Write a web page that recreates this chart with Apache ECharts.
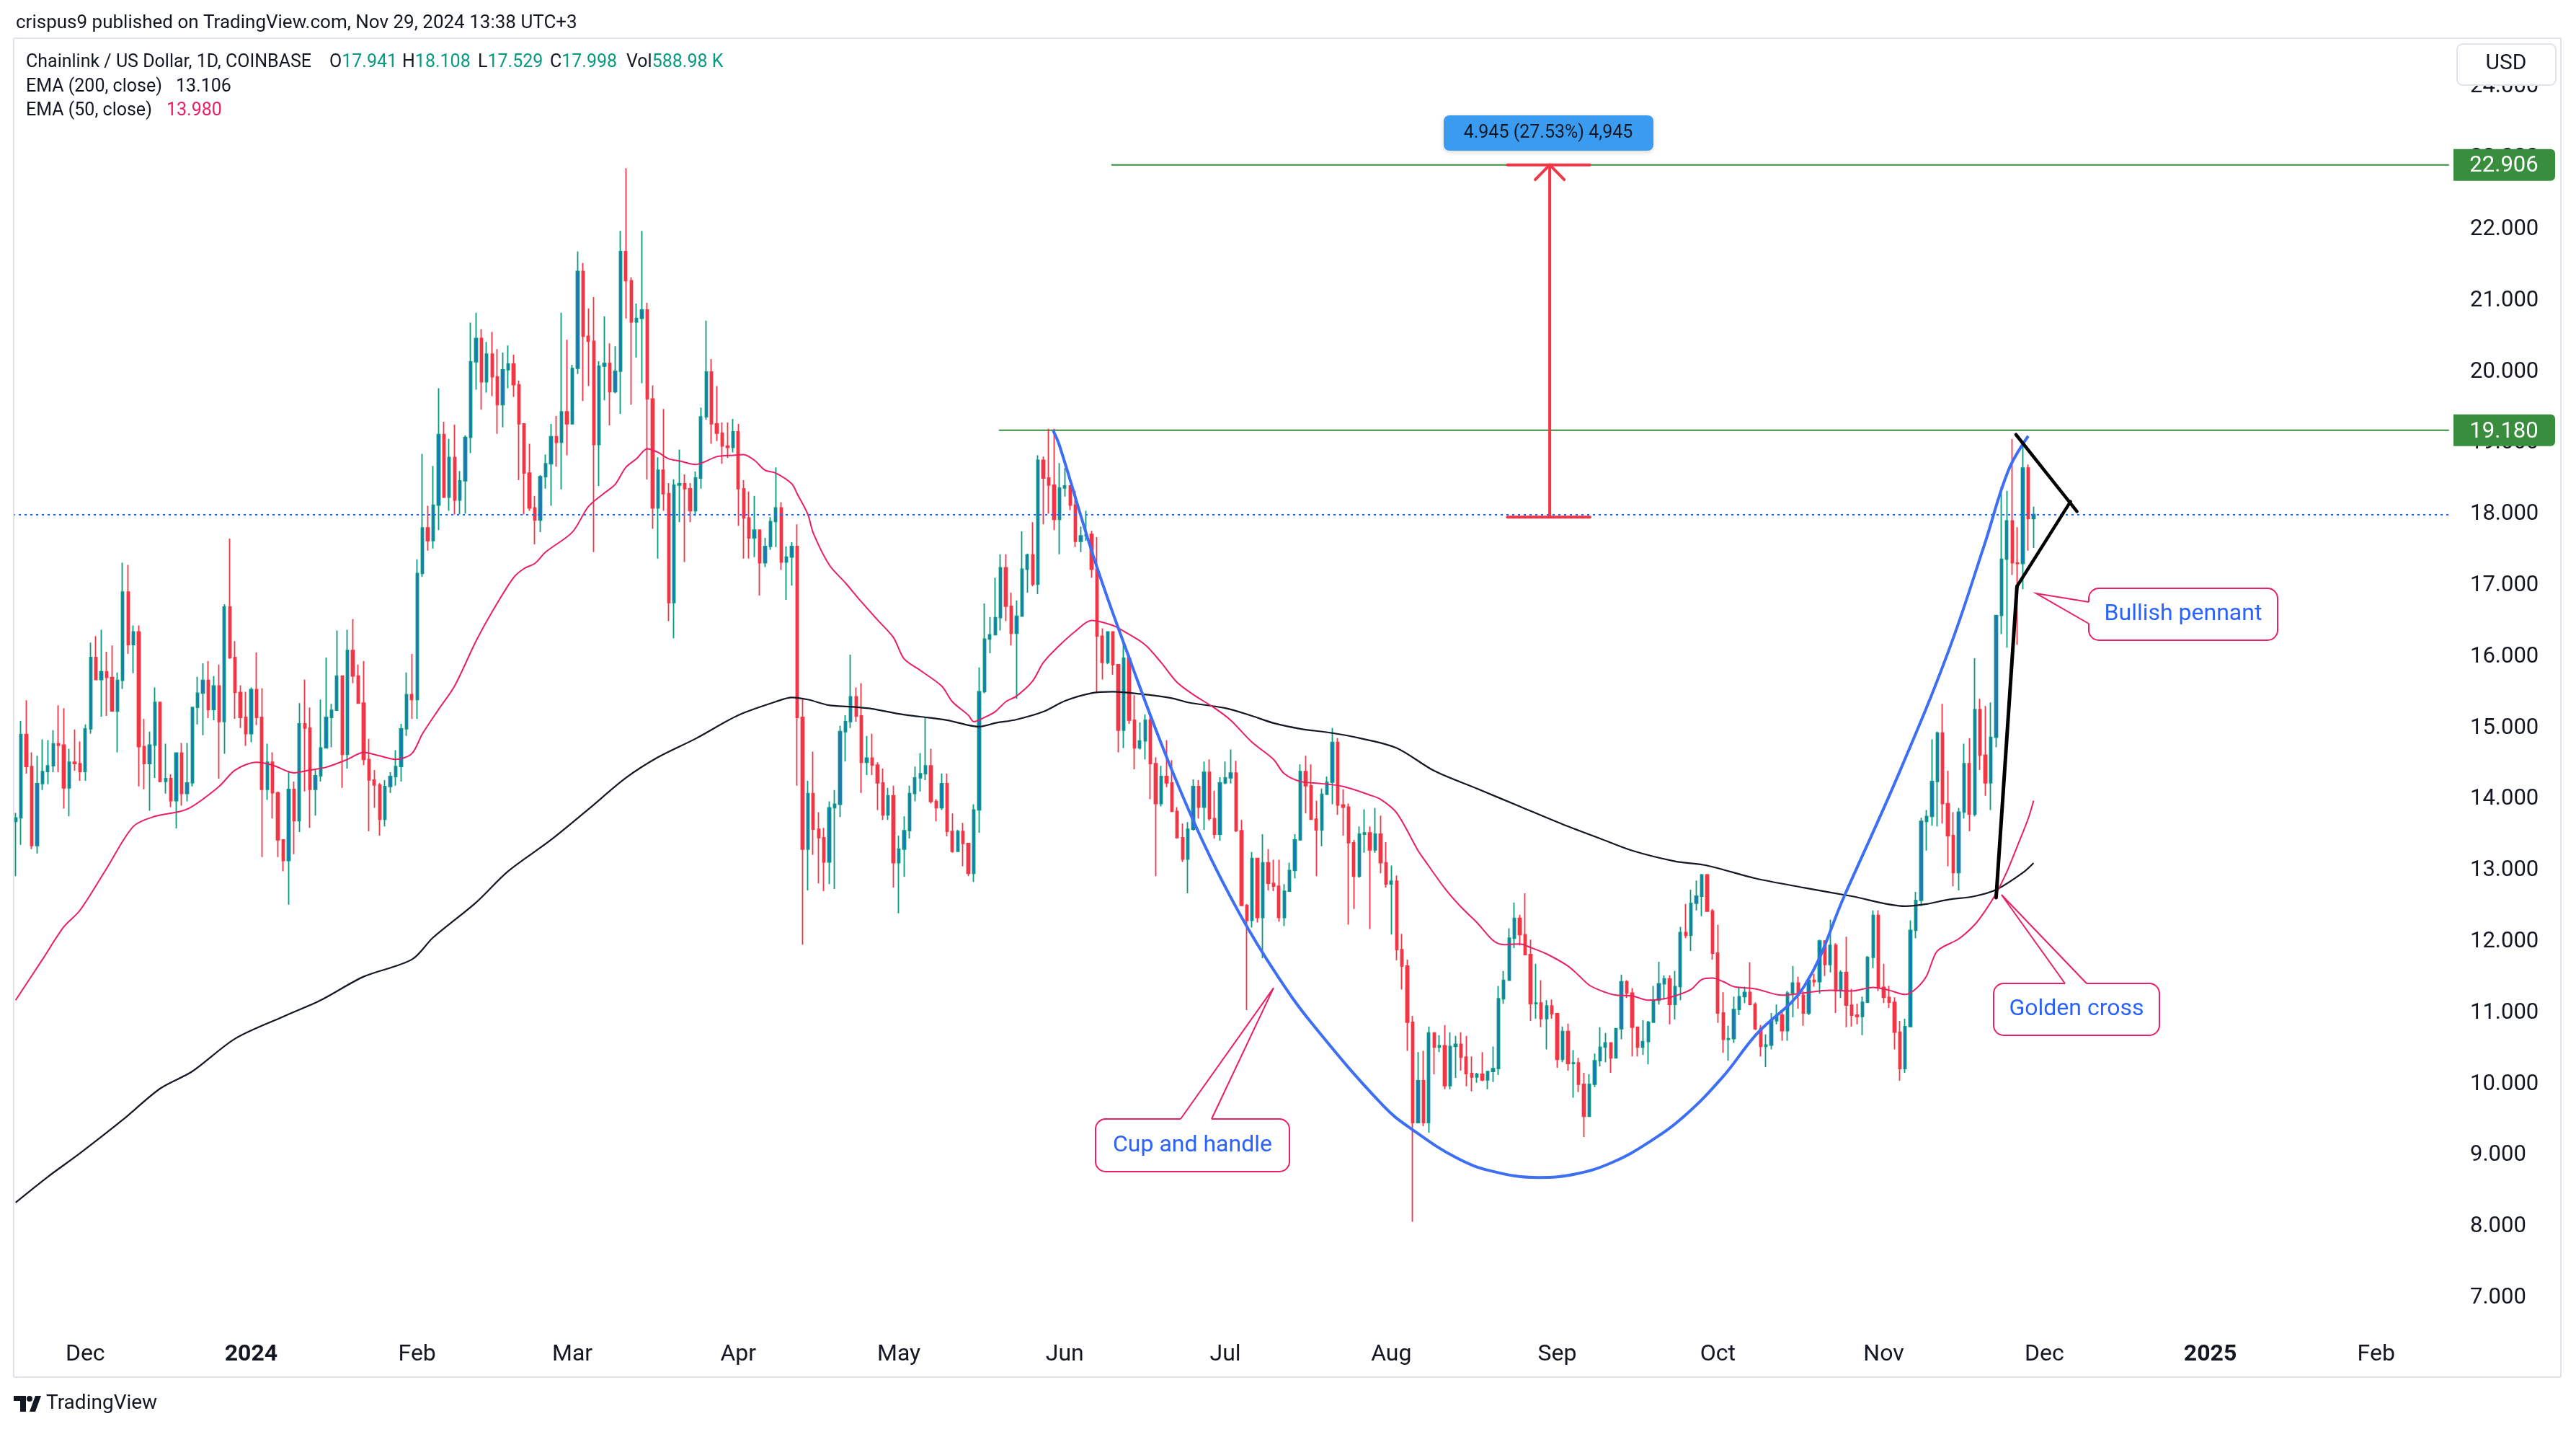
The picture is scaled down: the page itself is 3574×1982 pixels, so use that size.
<!DOCTYPE html>
<html>
<head>
<meta charset="utf-8">
<title>Chainlink / US Dollar, 1D</title>
<script src="https://cdn.jsdelivr.net/npm/echarts@6/dist/echarts.min.js"></script>
<style>
  html, body { margin: 0; padding: 0; background: #fff; }
  #chart { width: 3574px; height: 1982px; }
</style>
</head>
<body>
<div id="chart"></div>
<script>
// daily candles, index 0 = 2023-11-18 ... index 377 = 2024-11-29
const opens = [
  13.69, 13.74, 14.91, 14.46, 13.35, 14.22, 14.39, 14.47, 14.78, 14.76,
  14.16, 14.52, 14.50, 14.39, 14.99, 15.99, 15.68, 15.79, 15.71, 15.24,
  15.67, 16.91, 16.17, 16.35, 14.74, 14.50, 14.76, 15.36, 14.25, 14.29,
  13.98, 14.65, 14.08, 14.23, 15.29, 15.49, 15.67, 15.26, 15.59, 15.09,
  16.70, 15.99, 15.50, 15.15, 14.92, 15.54, 15.15, 14.14, 14.52, 14.09,
  13.43, 13.14, 14.14, 13.70, 15.06, 15.00, 14.14, 14.33, 14.72, 15.15,
  15.25, 15.73, 14.63, 16.09, 15.73, 15.35, 14.56, 14.27, 14.20, 13.72,
  14.18, 14.32, 14.46, 14.99, 15.47, 15.40, 17.17, 17.81, 17.63, 18.13,
  19.12, 18.24, 18.80, 18.20, 18.47, 19.08, 20.14, 20.47, 19.86, 20.25,
  19.93, 19.54, 20.03, 20.11, 19.82, 19.27, 18.58, 18.09, 17.92, 18.53,
  18.71, 19.09, 19.01, 19.44, 19.27, 20.05, 21.41, 20.50, 20.43, 18.98,
  20.08, 20.12, 19.72, 20.01, 21.69, 21.28, 20.70, 20.75, 20.87, 19.62,
  18.09, 18.62, 18.29, 16.76, 18.41, 18.43, 18.36, 18.05, 18.51, 19.37,
  20.00, 19.27, 19.14, 18.96, 18.94, 19.16, 18.36, 17.95, 17.67, 17.78,
  17.32, 17.55, 17.90, 18.09, 17.33, 17.40, 17.55, 15.15, 13.30, 14.08,
  13.58, 13.46, 13.12, 13.88, 13.93, 14.95, 15.09, 15.44, 15.17, 14.52,
  14.58, 14.48, 14.23, 13.78, 14.05, 13.11, 13.30, 13.56, 14.08, 14.30,
  14.36, 14.47, 13.97, 13.88, 14.22, 13.55, 13.27, 13.55, 13.38, 12.96,
  13.85, 15.51, 16.25, 16.31, 16.55, 17.25, 16.71, 16.33, 16.57, 17.23,
  17.43, 17.02, 18.76, 18.51, 18.41, 17.93, 18.37, 18.40, 18.13, 17.62,
  17.70, 17.72, 17.23, 16.29, 15.92, 16.35, 15.89, 14.97, 15.98, 15.11,
  14.72, 14.82, 15.11, 14.50, 13.94, 14.32, 14.23, 13.83, 13.46, 13.16,
  13.58, 14.18, 13.89, 14.38, 13.73, 13.51, 14.23, 14.30, 14.37, 13.56,
  12.51, 12.30, 13.17, 12.34, 13.11, 12.82, 12.78, 12.34, 12.71, 13.00,
  13.43, 14.39, 14.19, 13.72, 13.57, 14.07, 14.24, 14.80, 13.92, 13.89,
  13.39, 12.92, 13.51, 13.53, 13.29, 13.51, 13.11, 12.81, 12.85, 11.89,
  11.66, 10.87, 9.46, 10.05, 9.46, 10.72, 10.52, 10.54, 9.98, 10.53,
  10.56, 10.38, 10.15, 10.10, 10.14, 10.06, 10.18, 10.22, 11.20, 11.46,
  12.05, 12.33, 12.10, 11.82, 11.13, 11.14, 10.92, 11.10, 10.99, 10.35,
  10.74, 10.29, 10.30, 10.00, 9.55, 10.00, 10.33, 10.52, 10.58, 10.37,
  10.78, 11.44, 11.28, 10.80, 10.52, 10.60, 10.87, 11.18, 11.41, 11.48,
  11.12, 11.37, 12.13, 12.09, 12.54, 12.64, 12.94, 12.43, 11.84, 11.00,
  10.63, 10.64, 11.05, 11.23, 11.29, 11.12, 10.78, 10.53, 10.55, 10.89,
  10.97, 10.75, 11.28, 11.42, 11.25, 11.00, 11.46, 11.44, 12.01, 11.68,
  11.95, 11.31, 11.57, 11.11, 10.97, 10.95, 11.15, 11.78, 12.37, 11.36,
  11.22, 11.15, 10.73, 10.22, 10.81, 12.16, 12.58, 13.69, 13.76, 14.25,
  14.93, 13.94, 13.49, 12.97, 13.82, 14.50, 13.79, 15.26, 14.62, 14.23,
  14.87, 16.58, 17.37, 17.91, 17.32, 17.31, 18.65, 17.941
];
const closes = [
  13.74, 14.91, 14.46, 13.35, 14.22, 14.39, 14.47, 14.78, 14.76, 14.16,
  14.52, 14.50, 14.39, 14.99, 15.99, 15.68, 15.79, 15.71, 15.24, 15.67,
  16.91, 16.17, 16.35, 14.74, 14.50, 14.76, 15.36, 14.25, 14.29, 13.98,
  14.65, 14.08, 14.23, 15.29, 15.49, 15.67, 15.26, 15.59, 15.09, 16.70,
  15.99, 15.50, 15.15, 14.92, 15.54, 15.15, 14.14, 14.52, 14.09, 13.43,
  13.14, 14.14, 13.70, 15.06, 15.00, 14.14, 14.33, 14.72, 15.15, 15.25,
  15.73, 14.63, 16.09, 15.73, 15.35, 14.56, 14.27, 14.20, 13.72, 14.18,
  14.32, 14.46, 14.99, 15.47, 15.40, 17.17, 17.81, 17.63, 18.13, 19.12,
  18.24, 18.80, 18.20, 18.47, 19.08, 20.14, 20.47, 19.86, 20.25, 19.93,
  19.54, 20.03, 20.11, 19.82, 19.27, 18.58, 18.09, 17.92, 18.53, 18.71,
  19.09, 19.01, 19.44, 19.27, 20.05, 21.41, 20.50, 20.43, 18.98, 20.08,
  20.12, 19.72, 20.01, 21.69, 21.28, 20.70, 20.75, 20.87, 19.62, 18.09,
  18.62, 18.29, 16.76, 18.41, 18.43, 18.36, 18.05, 18.51, 19.37, 20.00,
  19.27, 19.14, 18.96, 18.94, 19.16, 18.36, 17.95, 17.67, 17.78, 17.32,
  17.55, 17.90, 18.09, 17.33, 17.40, 17.55, 15.15, 13.30, 14.08, 13.58,
  13.46, 13.12, 13.88, 13.93, 14.95, 15.09, 15.44, 15.17, 14.52, 14.58,
  14.48, 14.23, 13.78, 14.05, 13.11, 13.30, 13.56, 14.08, 14.30, 14.36,
  14.47, 13.97, 13.88, 14.22, 13.55, 13.27, 13.55, 13.38, 12.96, 13.85,
  15.51, 16.25, 16.31, 16.55, 17.25, 16.71, 16.33, 16.57, 17.23, 17.43,
  17.02, 18.76, 18.51, 18.41, 17.93, 18.37, 18.40, 18.13, 17.62, 17.70,
  17.72, 17.23, 16.29, 15.92, 16.35, 15.89, 14.97, 15.98, 15.11, 14.72,
  14.82, 15.11, 14.50, 13.94, 14.32, 14.23, 13.83, 13.46, 13.16, 13.58,
  14.18, 13.89, 14.38, 13.73, 13.51, 14.23, 14.30, 14.37, 13.56, 12.51,
  12.30, 13.17, 12.34, 13.11, 12.82, 12.78, 12.34, 12.71, 13.00, 13.43,
  14.39, 14.19, 13.72, 13.57, 14.07, 14.24, 14.80, 13.92, 13.89, 13.39,
  12.92, 13.51, 13.53, 13.29, 13.51, 13.11, 12.81, 12.85, 11.89, 11.66,
  10.87, 9.46, 10.05, 9.46, 10.72, 10.52, 10.54, 9.98, 10.53, 10.56,
  10.38, 10.15, 10.10, 10.14, 10.06, 10.18, 10.22, 11.20, 11.46, 12.05,
  12.33, 12.10, 11.82, 11.13, 11.14, 10.92, 11.10, 10.99, 10.35, 10.74,
  10.29, 10.30, 10.00, 9.55, 10.00, 10.33, 10.52, 10.58, 10.37, 10.78,
  11.44, 11.28, 10.80, 10.52, 10.60, 10.87, 11.18, 11.41, 11.48, 11.12,
  11.37, 12.13, 12.09, 12.54, 12.64, 12.94, 12.43, 11.84, 11.00, 10.63,
  10.64, 11.05, 11.23, 11.29, 11.12, 10.78, 10.53, 10.55, 10.89, 10.97,
  10.75, 11.28, 11.42, 11.25, 11.00, 11.46, 11.44, 12.01, 11.68, 11.95,
  11.31, 11.57, 11.11, 10.97, 10.95, 11.15, 11.78, 12.37, 11.36, 11.22,
  11.15, 10.73, 10.22, 10.81, 12.16, 12.58, 13.69, 13.76, 14.25, 14.93,
  13.94, 13.49, 12.97, 13.82, 14.50, 13.79, 15.26, 14.62, 14.23, 14.87,
  16.58, 17.37, 17.91, 17.32, 17.31, 18.65, 17.94, 17.998
];
const highs = [
  13.81, 15.10, 15.39, 14.66, 14.61, 14.84, 14.83, 14.97, 15.32, 15.28,
  14.71, 14.98, 14.81, 15.05, 16.20, 16.29, 16.38, 16.07, 16.16, 15.78,
  17.32, 17.29, 16.44, 16.44, 15.13, 14.95, 15.57, 15.37, 14.78, 14.35,
  14.66, 14.79, 14.79, 15.29, 15.72, 15.91, 15.94, 15.73, 15.89, 16.74,
  17.66, 16.22, 15.60, 15.51, 15.57, 16.06, 15.56, 14.78, 14.66, 14.11,
  13.43, 14.40, 14.25, 15.35, 15.68, 15.29, 14.42, 15.40, 15.99, 15.34,
  16.37, 15.73, 16.38, 16.53, 15.89, 15.94, 14.85, 14.41, 14.23, 14.27,
  14.38, 14.69, 15.06, 15.78, 16.04, 17.37, 18.85, 18.12, 18.68, 19.77,
  19.30, 19.06, 19.26, 18.61, 19.11, 20.69, 20.83, 20.60, 20.42, 20.56,
  20.32, 20.27, 20.37, 20.24, 19.88, 19.28, 18.99, 18.26, 18.55, 18.84,
  19.27, 19.38, 20.83, 20.45, 20.10, 21.69, 21.53, 20.89, 21.05, 20.15,
  20.78, 20.40, 20.36, 21.98, 22.86, 21.33, 20.96, 21.98, 20.97, 19.81,
  18.80, 19.48, 18.44, 18.49, 18.91, 18.56, 18.44, 18.60, 19.50, 20.72,
  20.18, 19.80, 19.29, 19.29, 19.34, 19.27, 18.48, 18.32, 18.26, 17.78,
  17.67, 17.96, 18.66, 18.17, 17.55, 17.61, 17.86, 15.40, 14.26, 14.67,
  13.82, 13.60, 13.97, 14.13, 15.03, 15.18, 16.03, 15.57, 15.63, 14.89,
  14.92, 14.52, 14.43, 14.16, 14.19, 13.49, 13.76, 14.19, 14.46, 14.65,
  15.15, 14.71, 14.00, 14.36, 14.36, 13.80, 13.57, 13.67, 13.38, 13.93,
  15.85, 16.75, 16.56, 17.11, 17.44, 17.44, 16.90, 16.79, 17.76, 17.45,
  17.89, 18.83, 18.81, 19.20, 19.20, 18.72, 18.65, 18.29, 18.33, 17.83,
  18.05, 17.77, 17.68, 16.40, 16.36, 16.36, 15.89, 16.22, 16.03, 15.46,
  15.08, 15.19, 15.19, 14.59, 14.47, 14.83, 14.55, 13.89, 13.66, 13.68,
  14.28, 14.27, 14.53, 14.56, 14.12, 14.31, 14.53, 14.70, 14.54, 13.71,
  12.53, 13.26, 13.18, 13.51, 13.30, 13.15, 13.15, 12.81, 13.11, 13.51,
  14.49, 14.61, 14.49, 13.98, 14.15, 14.32, 15.00, 14.86, 14.14, 13.94,
  13.43, 13.62, 13.86, 13.62, 13.88, 13.77, 13.40, 13.07, 12.93, 12.11,
  11.75, 10.96, 10.45, 10.47, 10.81, 10.73, 10.69, 10.83, 10.73, 10.68,
  10.73, 10.68, 10.39, 10.16, 10.45, 10.18, 10.53, 11.38, 11.59, 12.19,
  12.55, 12.38, 12.68, 12.03, 11.69, 11.46, 11.18, 11.19, 10.99, 10.81,
  10.85, 10.48, 10.37, 10.16, 10.14, 10.43, 10.80, 10.72, 10.58, 10.79,
  11.54, 11.46, 11.35, 10.80, 10.90, 10.89, 11.38, 11.72, 11.53, 11.53,
  11.59, 12.21, 12.53, 12.73, 12.86, 12.95, 12.95, 12.46, 12.24, 11.29,
  10.82, 11.23, 11.37, 11.37, 11.71, 11.15, 10.83, 10.70, 11.00, 11.12,
  11.03, 11.31, 11.66, 11.51, 11.31, 11.49, 11.55, 12.03, 12.02, 12.31,
  11.98, 11.60, 12.07, 11.34, 11.13, 11.23, 11.80, 12.44, 12.44, 11.69,
  11.38, 11.22, 10.89, 10.92, 12.30, 12.70, 13.74, 13.85, 14.84, 14.95,
  15.34, 14.40, 13.82, 13.88, 14.78, 14.86, 15.98, 15.41, 15.31, 15.36,
  16.59, 18.39, 18.33, 19.06, 17.82, 19.01, 18.70, 18.108
];
const lows = [
  12.92, 13.36, 14.36, 13.30, 13.24, 14.13, 14.21, 14.38, 14.38, 13.87,
  13.76, 14.40, 14.26, 14.26, 14.92, 15.67, 15.16, 15.17, 15.23, 14.66,
  15.55, 16.04, 15.77, 14.18, 14.14, 13.84, 14.30, 14.24, 14.08, 13.89,
  13.59, 13.91, 13.97, 14.18, 15.05, 14.90, 15.14, 15.11, 14.29, 14.64,
  15.97, 15.13, 15.00, 14.75, 14.80, 15.04, 13.19, 13.99, 13.73, 13.19,
  12.99, 12.52, 13.23, 13.54, 14.11, 13.60, 13.77, 14.25, 14.72, 14.73,
  15.26, 14.16, 14.43, 15.63, 15.34, 14.48, 13.55, 13.88, 13.49, 13.62,
  14.09, 14.19, 14.25, 14.89, 15.13, 15.13, 17.12, 17.49, 17.52, 17.78,
  18.23, 18.05, 18.00, 18.00, 18.01, 18.86, 19.75, 19.47, 19.71, 19.66,
  19.13, 19.22, 19.77, 19.65, 18.48, 18.00, 18.05, 17.58, 17.75, 18.36,
  18.12, 18.67, 18.35, 18.83, 19.27, 19.97, 19.59, 19.80, 17.47, 18.40,
  19.60, 19.25, 19.70, 19.41, 20.75, 19.54, 20.20, 19.84, 18.49, 17.80,
  17.38, 18.05, 16.50, 16.26, 17.89, 17.33, 17.89, 17.98, 18.36, 19.33,
  18.99, 19.03, 18.71, 18.79, 18.87, 17.84, 17.38, 17.38, 17.40, 16.86,
  17.26, 17.50, 17.54, 17.22, 16.80, 17.00, 14.19, 11.96, 12.72, 13.22,
  12.82, 12.71, 12.81, 12.74, 13.75, 14.53, 15.00, 15.09, 14.09, 14.34,
  14.34, 13.85, 13.71, 13.71, 12.76, 12.40, 12.91, 13.45, 13.97, 14.11,
  14.27, 13.94, 13.69, 13.85, 13.48, 13.25, 13.27, 13.06, 12.92, 12.84,
  13.53, 15.49, 16.05, 16.31, 16.37, 16.50, 16.16, 15.41, 16.57, 16.90,
  16.99, 16.88, 17.86, 18.01, 17.78, 17.44, 18.25, 18.06, 17.54, 17.47,
  17.63, 17.11, 15.49, 15.68, 15.90, 15.75, 14.66, 14.72, 15.06, 14.42,
  14.70, 14.56, 14.00, 12.92, 13.90, 14.17, 13.82, 13.45, 13.12, 12.68,
  13.56, 13.73, 13.57, 13.70, 13.45, 13.42, 14.21, 14.22, 13.54, 12.51,
  11.04, 12.20, 12.27, 11.77, 12.72, 12.71, 12.28, 12.22, 12.70, 12.89,
  13.42, 13.80, 13.71, 12.92, 13.34, 14.06, 13.93, 13.78, 13.49, 12.24,
  12.46, 12.90, 13.25, 12.18, 13.25, 12.96, 12.76, 12.10, 11.74, 11.33,
  10.47, 8.07, 9.46, 9.41, 9.32, 10.14, 10.45, 9.93, 9.93, 10.09,
  10.19, 9.97, 9.90, 10.02, 10.04, 9.93, 10.03, 10.13, 11.13, 11.46,
  11.91, 11.95, 11.82, 10.89, 10.92, 10.80, 10.49, 10.92, 10.23, 10.31,
  10.19, 9.81, 9.89, 9.26, 9.55, 9.96, 10.25, 10.31, 10.16, 10.37,
  10.63, 11.21, 10.39, 10.39, 10.41, 10.28, 10.87, 11.12, 11.19, 10.84,
  10.91, 11.18, 12.05, 11.87, 12.44, 12.36, 12.42, 11.75, 10.86, 10.44,
  10.33, 10.58, 10.97, 11.14, 11.11, 10.76, 10.39, 10.24, 10.49, 10.84,
  10.61, 10.61, 10.94, 11.06, 10.82, 10.97, 11.37, 11.27, 11.52, 11.57,
  11.00, 11.21, 10.80, 10.81, 10.84, 10.69, 11.14, 11.63, 11.31, 11.14,
  11.07, 10.49, 10.05, 10.16, 10.80, 12.05, 12.50, 13.28, 13.63, 13.62,
  13.66, 13.06, 12.78, 12.72, 13.73, 13.55, 13.76, 14.41, 14.05, 13.85,
  14.73, 16.32, 16.13, 17.15, 16.17, 16.95, 17.49, 17.529
];

// EMA readings [day index, value]
const ema200Pts = [
  [0, 8.34], [6, 8.70], [12, 9.03], [20, 9.50], [27, 9.94], [33, 10.18], [41, 10.64],
  [50, 10.95], [57, 11.18], [65, 11.51], [74, 11.75], [78, 12.06], [86, 12.55],
  [92, 12.99], [100, 13.43], [107, 13.86], [114, 14.30], [120, 14.59], [127, 14.85],
  [135, 15.18], [142, 15.37], [145, 15.43], [148, 15.40], [152, 15.32], [156, 15.30],
  [160, 15.27], [165, 15.20], [169, 15.16], [174, 15.11], [178, 15.04], [180, 15.02],
  [183, 15.07], [187, 15.12], [192, 15.23], [196, 15.38], [201, 15.49], [205, 15.51],
  [210, 15.48], [216, 15.42], [219, 15.36], [226, 15.28], [231, 15.17], [235, 15.07],
  [240, 14.99], [246, 14.93], [251, 14.86], [258, 14.72], [265, 14.40], [273, 14.15],
  [281, 13.90], [289, 13.65], [296, 13.45], [302, 13.28], [310, 13.13], [316, 13.07],
  [325, 12.89], [334, 12.76], [343, 12.64], [353, 12.50], [357, 12.53], [361, 12.59],
  [366, 12.64], [370, 12.73], [375, 12.97], [377, 13.106]
];
const ema50Pts = [
  [0, 11.18], [5, 11.75], [9, 12.21], [12, 12.44], [17, 13.03], [22, 13.62], [26, 13.76],
  [32, 13.86], [38, 14.18], [41, 14.41], [45, 14.52], [48, 14.48], [52, 14.37], [55, 14.41],
  [58, 14.45], [62, 14.56], [65, 14.66], [68, 14.61], [71, 14.56], [74, 14.64], [76, 14.92],
  [79, 15.26], [82, 15.59], [86, 16.22], [89, 16.63], [93, 17.11], [95, 17.24], [97, 17.31],
  [99, 17.47], [104, 17.75], [107, 18.11], [110, 18.30], [112, 18.42], [114, 18.66],
  [116, 18.78], [118, 18.92], [120, 18.87], [122, 18.78], [124, 18.75], [127, 18.70],
  [131, 18.81], [134, 18.83], [136, 18.84], [138, 18.76], [140, 18.62], [142, 18.58],
  [145, 18.43], [146, 18.29], [148, 18.00], [149, 17.74], [152, 17.29], [155, 17.04],
  [157, 16.86], [161, 16.52], [164, 16.27], [166, 15.97], [169, 15.81], [173, 15.59],
  [175, 15.37], [178, 15.18], [179, 15.09], [181, 15.15], [183, 15.23], [185, 15.37],
  [187, 15.45], [190, 15.66], [192, 15.92], [195, 16.16], [198, 16.36], [201, 16.51],
  [205, 16.44], [207, 16.36], [211, 16.17], [214, 15.92], [217, 15.64], [220, 15.47],
  [224, 15.28], [227, 15.11], [231, 14.80], [235, 14.56], [237, 14.36], [240, 14.25],
  [244, 14.22], [248, 14.18], [253, 14.06], [255, 14.00], [258, 13.81], [262, 13.28],
  [263, 13.17], [267, 12.75], [270, 12.49], [273, 12.27], [276, 12.02], [278, 11.96],
  [281, 11.97], [283, 11.92], [286, 11.83], [290, 11.66], [292, 11.53], [294, 11.39],
  [297, 11.29], [299, 11.25], [302, 11.24], [305, 11.18], [308, 11.20], [310, 11.24],
  [313, 11.33], [315, 11.47], [317, 11.49], [319, 11.44], [321, 11.37], [325, 11.34],
  [330, 11.25], [334, 11.28], [339, 11.32], [343, 11.31], [347, 11.36], [350, 11.32],
  [353, 11.26], [355, 11.34], [357, 11.52], [359, 11.87], [363, 12.04], [366, 12.24],
  [368, 12.44], [370, 12.68], [372, 12.98], [374, 13.35], [376, 13.73], [377, 13.98]
];

// hand-drawn cup curve
const cupPts = [
  [193.8, 19.18], [195, 18.97], [201.7, 17.33], [208.5, 15.89], [215.2, 14.56],
  [221.9, 13.39], [228.7, 12.39], [235.4, 11.56], [242.1, 10.86], [255.6, 9.69],
  [261, 9.36], [269.1, 8.97], [275.8, 8.78], [284.5, 8.69], [291.5, 8.74],
  [298.2, 8.90], [305, 9.18], [311.7, 9.55], [318.9, 10.10], [325.2, 10.70],
  [334.1, 11.37], [341.8, 12.67], [352.1, 14.41], [361.1, 16.08], [367.8, 17.57],
  [372.3, 18.62], [376, 19.10]
];

const monthTicks = [13, 44, 75, 104, 135, 165, 196, 226, 257, 288, 318, 349, 379, 410, 441];
const monthLabels = ['Dec', '2024', 'Feb', 'Mar', 'Apr', 'May', 'Jun', 'Jul', 'Aug', 'Sep', 'Oct', 'Nov', 'Dec', '2025', 'Feb'];
const priceTicks = [7, 8, 9, 10, 11, 12, 13, 14, 15, 16, 17, 18, 19, 20, 21, 22, 23, 24];

const lastPrice = 17.998;
const target = 22.906;
const resistance = 19.180;
const rangeLow = 17.961;

const FONT = 'Roboto, "Noto Sans", sans-serif';
const INK = '#131722';
const GREEN_LINE = '#388e3c';
const RED = '#f23645';
const PINK = '#e91e63';

const candles = closes.map((c, i) => [i, opens[i], c, lows[i], highs[i]]);

const seg = (pts, color, width, z) => ({
  type: 'line',
  data: pts,
  symbol: 'none',
  silent: true,
  z: z || 6,
  lineStyle: { color: color, width: width, cap: 'round', join: 'round' }
});

const chart = echarts.init(document.getElementById('chart'));

chart.setOption({
  animation: false,
  backgroundColor: '#ffffff',
  grid: { left: 18, right: 177, top: 62, bottom: 147 },
  xAxis: {
    type: 'value',
    min: -0.5,
    max: 454.5,
    axisLine: { show: false },
    axisTick: { show: false },
    splitLine: { show: false },
    axisLabel: {
      customValues: monthTicks,
      margin: 28,
      color: INK,
      fontFamily: FONT,
      fontSize: 32,
      formatter: (v) => {
        const t = monthLabels[monthTicks.indexOf(Math.round(v))] || '';
        return /^\d{4}$/.test(t) ? '{y|' + t + '}' : t;
      },
      rich: { y: { fontWeight: 'bold', fontSize: 32, fontFamily: FONT, color: INK } }
    }
  },
  yAxis: {
    type: 'value',
    position: 'right',
    min: 6.648,
    max: 24.593,
    scale: true,
    axisLine: { show: false },
    axisTick: { show: false },
    splitLine: { show: false },
    axisLabel: {
      customValues: priceTicks,
      margin: 30,
      padding: [8, 0, 0, 0],
      color: INK,
      fontFamily: FONT,
      fontSize: 31,
      formatter: (v) => v.toFixed(3)
    }
  },
  series: [
    {
      type: 'candlestick',
      data: candles,
      encode: { x: 0, y: [1, 2, 3, 4] },
      barWidth: 3.8,
      z: 3,
      itemStyle: {
        color: '#2568dc',
        color0: RED,
        borderColor: '#089981',
        borderColor0: RED,
        borderWidth: 1.8
      },
      markLine: {
        silent: true,
        symbol: ['none', 'none'],
        label: { show: false },
        lineStyle: { color: '#2962ff', type: [3, 5], width: 2 },
        data: [{ yAxis: lastPrice }]
      }
    },
    {
      type: 'line', name: 'EMA 200', data: ema200Pts, smooth: 0.3, symbol: 'none', silent: true, z: 4,
      lineStyle: { color: INK, width: 2.2 }
    },
    {
      type: 'line', name: 'EMA 50', data: ema50Pts, smooth: 0.3, symbol: 'none', silent: true, z: 4,
      lineStyle: { color: PINK, width: 2 }
    },
    {
      type: 'line', name: 'Cup', data: cupPts, smooth: 0.4, symbol: 'none', silent: true, z: 5,
      lineStyle: { color: '#3d6ff5', width: 4 }
    },
    // horizontal target / resistance lines
    seg([[204.8, target], [454.5, target]], GREEN_LINE, 2, 2),
    seg([[183.8, resistance], [454.5, resistance]], GREEN_LINE, 2, 2),
    // price range measurement
    seg([[286.6, rangeLow], [286.6, target]], RED, 4),
    seg([[278.7, rangeLow], [294.1, rangeLow]], RED, 4),
    seg([[278.7, target], [294.1, target]], RED, 4),
    seg([[283.9, 22.70], [286.6, target], [289.3, 22.70]], RED, 4),
    // bullish pennant
    seg([[370.0, 12.62], [373.9, 16.99]], '#000000', 5, 7),
    seg([[373.9, 16.99], [383.9, 18.18]], '#000000', 4.5, 7),
    seg([[373.7, 19.12], [385.1, 18.04]], '#000000', 4.5, 7)
  ]
});

function px(k, p) {
  return chart.convertToPixel({ gridIndex: 0 }, [k, p]);
}

function callout(box, text, tip, base1, base2) {
  const t = px(tip[0], tip[1]);
  return [
    {
      type: 'rect', z: 50,
      shape: { x: box[0], y: box[1], width: box[2], height: box[3], r: 14 },
      style: { fill: '#ffffff', stroke: PINK, lineWidth: 2 }
    },
    {
      type: 'line', z: 51,
      shape: { x1: base1[0], y1: base1[1], x2: base2[0], y2: base2[1] },
      style: { stroke: '#ffffff', lineWidth: 4 }
    },
    {
      type: 'polyline', z: 52,
      shape: { points: [base1, t, base2] },
      style: { stroke: PINK, lineWidth: 2, fill: null }
    },
    {
      type: 'text', z: 53,
      x: box[0] + box[2] / 2, y: box[1] + box[3] / 2,
      style: { text: text, fill: '#2962ff', font: '32px ' + FONT, align: 'center', verticalAlign: 'middle' }
    }
  ];
}

function priceTag(price, label) {
  const y = px(0, price)[1];
  return [
    {
      type: 'rect', z: 60,
      shape: { x: 3404, y: y - 22, width: 141, height: 44, r: [0, 6, 6, 0] },
      style: { fill: GREEN_LINE }
    },
    {
      type: 'text', z: 61, x: 3474, y: y + 2,
      style: { text: label, fill: '#ffffff', font: '31px ' + FONT, align: 'center', verticalAlign: 'middle' }
    }
  ];
}

function legendPair(x, y, key, val, color) {
  return {
    type: 'text', z: 70, x: x, y: y,
    style: {
      text: '{k|' + key + '}{v|' + val + '}',
      verticalAlign: 'middle',
      rich: {
        k: { fill: INK, font: '25px ' + FONT },
        v: { fill: color, font: '25px ' + FONT }
      }
    }
  };
}

const frame = '#e0e3eb';
const graphics = [
  // header
  {
    type: 'text', z: 70, x: 22, y: 32,
    style: { text: 'crispus9 published on TradingView.com, Nov 29, 2024 13:38 UTC+3', fill: INK, font: '26px ' + FONT, verticalAlign: 'middle' }
  },
  // frame
  { type: 'line', z: 40, shape: { x1: 19, y1: 53, x2: 3553, y2: 53 }, style: { stroke: frame, lineWidth: 2 } },
  { type: 'line', z: 40, shape: { x1: 19, y1: 53, x2: 19, y2: 1910 }, style: { stroke: frame, lineWidth: 2 } },
  { type: 'line', z: 40, shape: { x1: 19, y1: 1910, x2: 3553, y2: 1910 }, style: { stroke: frame, lineWidth: 2 } },
  { type: 'line', z: 40, shape: { x1: 3553, y1: 53, x2: 3553, y2: 1910 }, style: { stroke: frame, lineWidth: 2 } },
  // legend
  { type: 'text', z: 70, x: 36, y: 87, style: { text: 'Chainlink / US Dollar, 1D, COINBASE', fill: INK, font: '25px ' + FONT, verticalAlign: 'middle' } },
  legendPair(457, 87, 'O', '17.941', '#089981'),
  legendPair(558, 87, 'H', '18.108', '#089981'),
  legendPair(663, 87, 'L', '17.529', '#089981'),
  legendPair(763, 87, 'C', '17.998', '#089981'),
  legendPair(869, 87, 'Vol', '588.98 K', '#089981'),
  { type: 'text', z: 70, x: 36, y: 121, style: { text: 'EMA (200, close)', fill: INK, font: '25px ' + FONT, verticalAlign: 'middle' } },
  { type: 'text', z: 70, x: 244, y: 121, style: { text: '13.106', fill: INK, font: '25px ' + FONT, verticalAlign: 'middle' } },
  { type: 'text', z: 70, x: 36, y: 154, style: { text: 'EMA (50, close)', fill: INK, font: '25px ' + FONT, verticalAlign: 'middle' } },
  { type: 'text', z: 70, x: 231, y: 154, style: { text: '13.980', fill: PINK, font: '25px ' + FONT, verticalAlign: 'middle' } },
  // USD box
  {
    type: 'rect', z: 60, shape: { x: 3409, y: 61, width: 137, height: 57, r: 8 },
    style: { fill: '#ffffff', stroke: frame, lineWidth: 2 }
  },
  { type: 'text', z: 61, x: 3477, y: 88, style: { text: 'USD', fill: INK, font: '30px ' + FONT, align: 'center', verticalAlign: 'middle' } },
  // measurement label
  {
    type: 'rect', z: 55, shape: { x: 2003, y: 160, width: 291, height: 49, r: 8 },
    style: { fill: '#3a9cf0', shadowBlur: 6, shadowColor: 'rgba(0,0,0,0.15)', shadowOffsetY: 2 }
  },
  { type: 'text', z: 56, x: 2148, y: 185, style: { text: '4.945 (27.53%) 4,945', fill: INK, font: '25px ' + FONT, align: 'center', verticalAlign: 'middle' } },
  // logo
  { type: 'rect', z: 70, shape: { x: 19, y: 1936, width: 17, height: 7 }, style: { fill: INK } },
  { type: 'rect', z: 70, shape: { x: 28, y: 1936, width: 8, height: 22 }, style: { fill: INK } },
  { type: 'circle', z: 70, shape: { cx: 41, cy: 1940, r: 4 }, style: { fill: INK } },
  { type: 'polygon', z: 70, shape: { points: [[49, 1936], [57, 1936], [49, 1958], [41, 1958]] }, style: { fill: INK } },
  { type: 'text', z: 70, x: 64, y: 1947, style: { text: 'TradingView', fill: INK, font: '28px ' + FONT, verticalAlign: 'middle' } }
]
  .concat(priceTag(target, '22.906'))
  .concat(priceTag(resistance, '19.180'))
  .concat(callout([1520, 1552, 269, 73], 'Cup and handle', [235.0, 11.35], [1638, 1552], [1681, 1552]))
  .concat(callout([2766, 1364, 230, 72], 'Golden cross', [371.0, 12.66], [2865, 1364], [2895, 1364]))
  .concat(callout([2898, 816, 262, 72], 'Bullish pennant', [377.5, 16.89], [2898, 835], [2898, 865]));

chart.setOption({ graphic: graphics });
</script>
</body>
</html>
